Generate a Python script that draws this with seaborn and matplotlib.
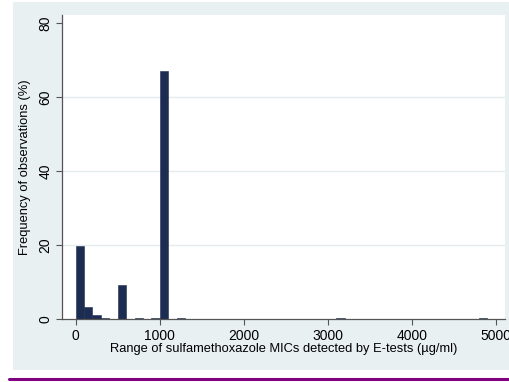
import numpy as np
import pandas as pd
import matplotlib
matplotlib.use("Agg")
import matplotlib.pyplot as plt
import seaborn as sns
from matplotlib.patches import Rectangle
from matplotlib.lines import Line2D

# Data: histogram bins (left edge, width 100 µg/ml) and frequency (%)
bin_left = [0, 100, 200, 300, 500, 700, 900, 1000, 1200, 3100, 4800]
freq_pct = [19.8, 3.3, 1.0, 0.35, 9.1, 0.25, 0.25, 67.0, 0.25, 0.25, 0.25]
x_ticks = [0, 1000, 2000, 3000, 4000, 5000]
y_ticks = [0, 20, 40, 60, 80]
x_label = "Range of sulfamethoxazole MICs detected by E-tests (µg/ml)"
y_label = "Frequency of observations (%)"

sns.set_theme(style="white")
plt.rcParams['font.family'] = ['Liberation Sans', 'DejaVu Sans']

W, H = 510, 382
fig = plt.figure(figsize=(W / 100, H / 100), dpi=100, facecolor="white")

# graph region background
fig.add_artist(Rectangle((13 / W, 1 - 370 / H), (W - 13) / W, (370 - 2) / H,
                         transform=fig.transFigure, facecolor="#e9f0f2",
                         edgecolor="none", zorder=0))
# purple rule at bottom
fig.add_artist(Line2D([9 / W, 1], [1 - 379 / H, 1 - 379 / H],
                      transform=fig.transFigure, color="#800080", lw=2.2))

ax = fig.add_axes([62 / W, 1 - 319 / H, (505 - 62) / W, (319 - 15) / H])
ax.set_facecolor("white")

df = pd.DataFrame({"mic": np.array(bin_left, dtype=float) + 50.0,
                   "pct": freq_pct})
sns.histplot(data=df, x="mic", weights="pct", binwidth=100, binrange=(0, 4900),
             stat="count", color="#1d2c51", edgecolor="#1d2c51", linewidth=0.4,
             alpha=1, ax=ax)

ax.set_xlim(-163, 5110)
ax.set_ylim(0, 82.2)
ax.set_xticks(x_ticks)
ax.set_yticks(y_ticks)
ax.set_yticklabels([str(v) for v in y_ticks], rotation=90, va="center")
for v in [20, 40, 60]:
    ax.axhline(v, color="#e4ecef", lw=1, zorder=0.5)
for p in ax.patches:
    p.set_zorder(2)

for s in ["top", "right"]:
    ax.spines[s].set_visible(False)
for s in ["left", "bottom"]:
    ax.spines[s].set_color("#555555")
    ax.spines[s].set_linewidth(0.9)

ax.tick_params(axis="both", which="major", length=4, width=0.8, color="#555555",
               labelsize=10, labelcolor="black", direction="out",
               left=True, bottom=True)
ax.tick_params(axis="x", pad=3)
ax.tick_params(axis="y", pad=3)
ax.set_xlabel(x_label, fontsize=9.3, labelpad=0, color="black")
ax.set_ylabel(y_label, fontsize=9.3, labelpad=5, color="black")

fig.savefig("out.png", dpi=100, facecolor="white")
